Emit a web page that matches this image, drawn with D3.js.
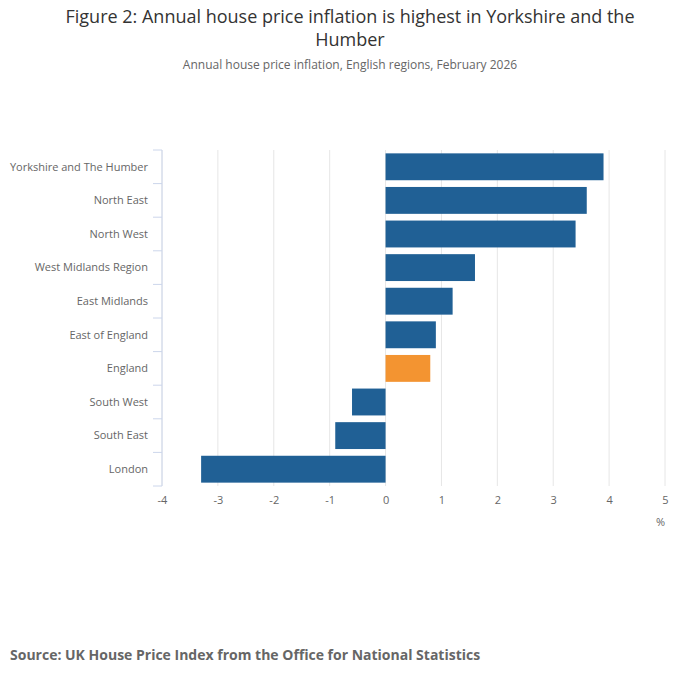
<!DOCTYPE html>
<html>
<head>
<meta charset="utf-8">
<script src="https://cdn.jsdelivr.net/npm/d3@7"></script>
<style>
  body { margin: 0; background: #fff; }
  svg { font-family: "Open Sans", sans-serif; }
</style>
</head>
<body>
<svg id="chart"></svg>
<script>
// regions top to bottom, annual % change Feb 2026
var regions = ["Yorkshire and The Humber", "North East", "North West", "West Midlands Region",
               "East Midlands", "East of England", "England", "South West", "South East", "London"]
var inflation = [3.9, 3.6, 3.4, 1.6, 1.2, 0.9, 0.8, -0.6, -0.9, -3.3]
var xTicks = [-4, -3, -2, -1, 0, 1, 2, 3, 4, 5]
var highlight = "England"

var screen = {width: 700, height: 682}
var plot = {left: 162, right: 665, top: 150, bottom: 486}

var svg = d3.select("#chart")
    .attr("width", screen.width)
    .attr("height", screen.height)

var xScale = d3.scaleLinear()
    .domain([-4, 5])
    .range([plot.left, plot.right])

var yScale = d3.scaleBand()
    .domain(regions)
    .range([plot.top, plot.bottom])
    .paddingInner(0.2)
    .paddingOuter(0.1)

// gridlines
svg.append("g")
    .selectAll("line")
    .data(xTicks)
    .enter()
    .append("line")
    .attr("x1", function (d) { return xScale(d) })
    .attr("x2", function (d) { return xScale(d) })
    .attr("y1", plot.top)
    .attr("y2", plot.bottom)
    .attr("stroke", "#e6e6e6")
    .attr("stroke-width", 1)

// bars
svg.append("g")
    .selectAll("rect")
    .data(regions)
    .enter()
    .append("rect")
    .attr("x", function (d, i) { return xScale(Math.min(0, inflation[i])) })
    .attr("width", function (d, i) { return Math.abs(xScale(inflation[i]) - xScale(0)) })
    .attr("y", function (d) { return yScale(d) })
    .attr("height", yScale.bandwidth())
    .attr("fill", function (d) { return d == highlight ? "#f39431" : "#206095" })

// x axis labels (plain hyphen minus like the original)
var xAxis = svg.append("g")
    .attr("transform", "translate(0," + plot.bottom + ")")
    .call(d3.axisBottom(xScale).tickValues(xTicks).tickSize(0).tickPadding(10)
        .tickFormat(function (d) { return String(d) }))
xAxis.select(".domain").remove()
xAxis.selectAll("text")
    .attr("fill", "#666")
    .style("font-size", "11px")
    .style("font-family", "Open Sans")

// y axis with ticks on band edges
var yAxis = svg.append("g")
yAxis.append("line")
    .attr("x1", plot.left).attr("x2", plot.left)
    .attr("y1", plot.top).attr("y2", plot.bottom)
    .attr("stroke", "#ccd6eb")
var edges = regions.map(function (d) { return yScale(d) - yScale.step() * yScale.paddingInner() / 2 })
edges.push(plot.bottom)
yAxis.selectAll(".edge")
    .data(edges)
    .enter()
    .append("line")
    .attr("class", "edge")
    .attr("x1", plot.left - 9).attr("x2", plot.left)
    .attr("y1", function (d) { return d }).attr("y2", function (d) { return d })
    .attr("stroke", "#ccd6eb")
yAxis.selectAll("text")
    .data(regions)
    .enter()
    .append("text")
    .attr("x", plot.left - 14)
    .attr("y", function (d) { return yScale(d) + yScale.bandwidth() / 2 })
    .attr("dy", "0.35em")
    .attr("text-anchor", "end")
    .attr("fill", "#666")
    .style("font-size", "11px")
    .text(function (d) { return d })

// axis unit
svg.append("text")
    .attr("x", 665).attr("y", 526)
    .attr("text-anchor", "end")
    .attr("fill", "#666")
    .style("font-size", "11px")
    .text("%")

// titles
svg.append("text")
    .attr("x", 350).attr("y", 23)
    .attr("text-anchor", "middle")
    .attr("fill", "#333")
    .style("font-size", "18px")
    .text("Figure 2: Annual house price inflation is highest in Yorkshire and the")
svg.append("text")
    .attr("x", 350).attr("y", 46)
    .attr("text-anchor", "middle")
    .attr("fill", "#333")
    .style("font-size", "18px")
    .text("Humber")
svg.append("text")
    .attr("x", 350).attr("y", 69)
    .attr("text-anchor", "middle")
    .attr("fill", "#666")
    .style("font-size", "12px")
    .text("Annual house price inflation, English regions, February 2026")

svg.append("text")
    .attr("x", 10).attr("y", 660)
    .attr("fill", "#666")
    .style("font-size", "14px")
    .style("font-weight", "bold")
    .text("Source: UK House Price Index from the Office for National Statistics")
</script>
</body>
</html>
